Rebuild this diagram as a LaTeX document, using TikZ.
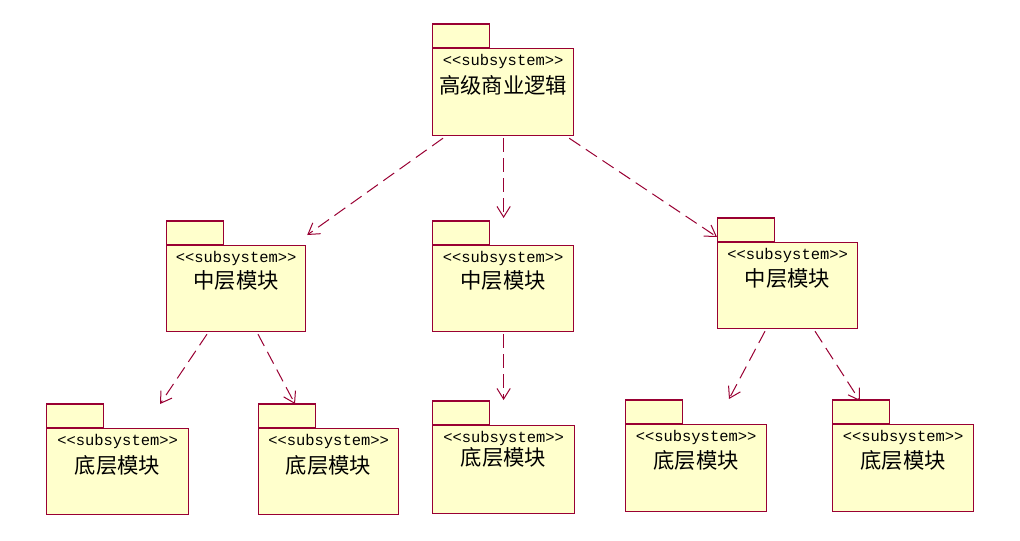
\documentclass[tikz,border=0pt]{standalone}
\usepackage{fontspec}
\setmonofont{Liberation Mono}
\newfontfamily\cjk{Noto Sans CJK SC}
\usetikzlibrary{arrows.meta,calc}
\definecolor{pkgfill}{HTML}{FFFFCC}
\definecolor{pkgline}{HTML}{990033}
\tikzset{
  pkgbody/.style={draw=pkgline, fill=pkgfill, line width=0.9pt, rectangle, inner sep=0pt, anchor=north west},
  pkgtab/.style={draw=pkgline, fill=pkgfill, line width=0.9pt, rectangle, inner sep=0pt, anchor=south west,
    minimum width=42.5pt, minimum height=17.5pt},
  stereo/.style={font=\ttfamily\fontsize{11.6pt}{13pt}\selectfont, inner sep=0pt},
  pkgname/.style={font=\cjk\fontsize{16pt}{18pt}\selectfont, inner sep=0pt},
  dep/.style={draw=pkgline, line width=0.75pt, dash pattern=on 10pt off 5pt,
    -{Straight Barb[length=8pt,width=10pt,line width=0.75pt]}}
}
% #1 name, #2 left x, #3 body top y, #4 body width, #5 body height, #6 label, #7 label offset
\newcommand\umlpkg[7]{%
  \node[pkgtab] (#1tab) at (#2,#3) {};
  \node[pkgbody, minimum width={#4*0.75pt}, minimum height={#5*0.75pt}] (#1) at (#2,#3) {};
  \node[stereo] (#1st) at ($(#1.north)+(0,13)$) {<{}<subsystem>{}>};
  \node[pkgname] (#1nm) at ($(#1.north)+(0,#7)$) {#6};
}
\begin{document}
\begin{tikzpicture}[x=0.75pt,y=-0.75pt]
\useasboundingbox (0,0) rectangle (1020,540);
\umlpkg{top}{432}{48}{141}{87}{高级商业逻辑}{37}
\umlpkg{ma}{166}{245}{139}{86}{中层模块}{35}
\umlpkg{mb}{432}{245}{141}{86}{中层模块}{35}
\umlpkg{mc}{717}{242}{140}{86}{中层模块}{36}
\umlpkg{ba}{46}{428}{142}{86}{底层模块}{37}
\umlpkg{bb}{258}{428}{140}{86}{底层模块}{37}
\umlpkg{bc}{432}{425}{142}{88}{底层模块}{32}
\umlpkg{bd}{625}{424}{141}{87}{底层模块}{36}
\umlpkg{be}{832}{424}{141}{87}{底层模块}{36}
\draw[dep] ($(top.south west)+(11,2)$) -- ($(ma.north east)+(1,-10)$);
\draw[dep] ($(top.south)+(0.5,2)$) -- ($(mb.north)+(0.5,-27)$);
\draw[dep] ($(top.south east)+(-5,2)$) -- ($(mc.north west)+(0,-5)$);
\draw[dep] ($(ma.south west)+(41,2)$) -- ($(ba.north west)+(114,-24)$);
\draw[dep] ($(ma.south west)+(92,2)$) -- ($(bb.north west)+(37,-24)$);
\draw[dep] ($(mb.south)+(0.5,2)$) -- ($(bc.north)+(0,-25)$);
\draw[dep] ($(mc.south west)+(48,2)$) -- ($(bd.north west)+(104,-25)$);
\draw[dep] ($(mc.south west)+(98,2)$) -- ($(be.north west)+(28,-23)$);
\end{tikzpicture}
\end{document}
